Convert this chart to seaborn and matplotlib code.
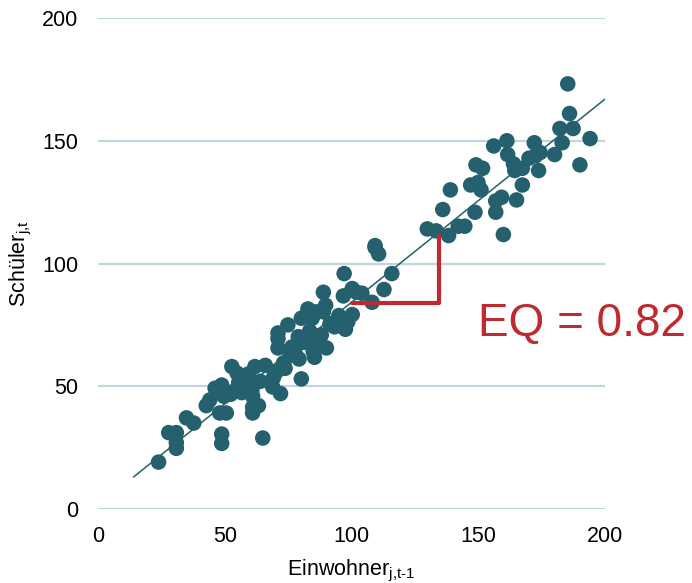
import matplotlib
matplotlib.use("Agg")
import matplotlib.pyplot as plt
import seaborn as sns
import pandas as pd

# --- data ---
einwohner = [23.9, 27.9, 30.9, 30.9, 30.9, 34.9, 37.8, 42.7, 44.1, 46.2,
             48.8, 48.0, 48.8, 48.8, 50.6, 49.7, 52.3, 52.8, 54.9, 54.0,
             56.7, 58.4, 59.3, 61.9, 60.7, 61.0, 61.0, 61.0, 63.3, 64.0,
             65.0, 68.9, 69.2, 70.3, 71.0, 71.0, 71.0, 72.0, 73.8, 73.2,
             74.9, 75.8, 77.6, 79.3, 80.2, 79.0, 80.2, 82.8, 81.1, 84.5,
             84.5, 84.9, 85.4, 86.0, 86.7, 88.9, 88.1, 89.8, 90.1, 88.9,
             91.5, 93.3, 95.0, 97.1, 96.8, 97.6, 98.5, 100.3, 100.3, 102.0,
             104.1, 108.1, 109.3, 110.7, 109.3, 112.8, 115.9, 129.9, 133.4, 136.0,
             138.3, 139.0, 142.1, 144.7, 147.0, 148.7, 149.1, 149.9, 151.1, 151.7,
             156.1, 156.9, 156.9, 159.2, 159.9, 161.3, 161.6, 163.9, 164.4, 165.1,
             167.4, 167.4, 170.0, 172.1, 172.6, 173.8, 174.4, 180.1, 182.2, 183.1,
             185.3, 186.0, 187.4, 190.1, 194.1, 57.5, 55.5, 66.0, 83.5, 76.5]
schueler = [19.1, 31.1, 31.1, 27.0, 24.7, 37.1, 35.0, 42.1, 44.4, 49.2,
            50.5, 39.1, 30.5, 26.7, 39.1, 45.9, 46.7, 58.0, 55.3, 48.2,
            47.4, 51.2, 55.0, 58.0, 48.2, 45.9, 41.4, 39.1, 42.1, 52.0,
            28.9, 49.7, 53.5, 55.8, 71.7, 69.4, 65.6, 47.0, 57.3, 59.5,
            75.0, 62.6, 64.1, 61.1, 53.0, 70.2, 77.7, 81.5, 67.9, 77.7,
            70.2, 64.1, 61.8, 80.3, 67.9, 88.3, 70.9, 83.0, 65.6, 80.3,
            75.5, 74.2, 78.8, 95.9, 86.8, 73.2, 76.2, 79.2, 89.8, 88.3,
            87.9, 84.2, 107.3, 103.9, 106.5, 89.4, 95.9, 114.1, 113.3, 122.0,
            111.4, 130.0, 115.2, 115.2, 132.0, 120.9, 140.2, 133.0, 130.0, 138.8,
            147.9, 125.5, 120.9, 127.0, 111.8, 150.0, 144.4, 140.6, 137.9, 125.9,
            138.8, 132.0, 142.9, 149.2, 143.9, 137.9, 145.2, 144.4, 155.0, 149.2,
            173.2, 161.1, 155.0, 140.2, 150.9, 49.0, 51.5, 58.5, 72.5, 66.0]

fit_x = [14, 200]
fit_y = [13.0, 167.0]

bracket_x = [100, 134.6, 134.6]
bracket_y = [83.8, 83.8, 111.8]

x_ticks = [0, 50, 100, 150, 200]
y_ticks = [0, 50, 100, 150, 200]
eq_label = "EQ = 0.82"

# --- styling ---
sns.set_theme(style="white")
plt.rcParams['font.family'] = ['Liberation Sans', 'DejaVu Sans']
plt.rcParams['mathtext.fontset'] = 'custom'
plt.rcParams['mathtext.rm'] = 'Liberation Sans'

dot_color = "#24606D"
red = "#BE2A30"
grid_color = "#C3D5DC"

fig = plt.figure(figsize=(6.92, 5.83), dpi=100)
ax = fig.add_axes([0.1416, 0.127, 0.7327, 0.842])

df = pd.DataFrame({"x": einwohner, "y": schueler})
for yv in y_ticks:
    ax.axhline(yv, color=grid_color, lw=1.6, zorder=0)

sns.lineplot(x=fit_x, y=fit_y, ax=ax, color=dot_color, lw=1.1, zorder=2)
sns.scatterplot(data=df, x="x", y="y", ax=ax, s=125, color=dot_color,
                edgecolor="none", linewidth=0, zorder=3)
sns.lineplot(x=bracket_x, y=bracket_y, ax=ax, color=red, lw=3.0, sort=False,
             estimator=None, zorder=4)

ax.text(150, 70.5, eq_label, color=red, fontsize=33, ha="left",
        va="baseline", clip_on=False)

ax.set_xlim(0, 200)
ax.set_ylim(0, 200)
ax.set_xticks(x_ticks)
ax.set_yticks(y_ticks)
ax.tick_params(axis="both", length=0, labelsize=15.5, colors="#000000")
ax.tick_params(axis="y", pad=14)
ax.tick_params(axis="x", pad=12)
for sp in ax.spines.values():
    sp.set_visible(False)
ax.grid(False)

ax.set_xlabel(r"Einwohner$_\mathregular{j{,}t\text{-}1}$", fontsize=15.5,
              labelpad=8, color="#000000")
ax.set_ylabel("Schüler" + r"$_\mathregular{j{,}t}$", fontsize=15.5,
              labelpad=6, color="#000000")

fig.savefig("out.png", dpi=100)
